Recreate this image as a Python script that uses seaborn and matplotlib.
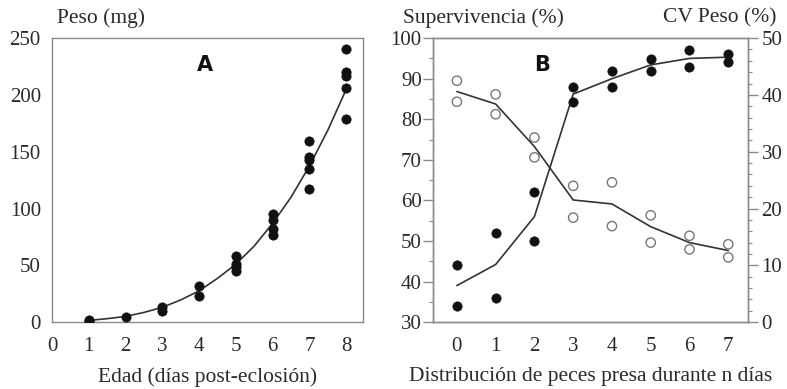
import numpy as np
import pandas as pd
import matplotlib
matplotlib.use("Agg")
import matplotlib.pyplot as plt
from matplotlib.ticker import MultipleLocator
import seaborn as sns

# %% datos panel A: peso vs edad
edad = [1, 1, 2, 3, 3, 4, 4, 5, 5, 5, 5, 6, 6, 6, 6, 7, 7, 7, 7, 7, 8, 8, 8, 8, 8]
peso = [1, 2, 4.4, 9.7, 13, 23, 31.8, 45, 48.5, 51.5, 58, 77, 82, 89.7, 95,
        117, 134.7, 143, 145.6, 159.6, 178.8, 206.5, 216.7, 220.6, 240.5]
curva_x = [1, 1.5, 2, 2.5, 3, 3.5, 4, 4.5, 5, 5.5, 6, 6.5, 7, 7.5, 8]
curva_y = [1.5, 3, 5, 8.5, 13, 19.5, 27.5, 38.5, 51, 67, 87, 110, 137.5, 169, 205]

# %% datos panel B: supervivencia y CV peso
dias = [0, 0, 1, 1, 2, 2, 3, 3, 4, 4, 5, 5, 6, 6, 7, 7]
superv = [44, 34, 52, 36, 62, 50, 88, 84.3, 92, 88, 94.8, 92, 97, 92.8, 96.1, 94]
cv = [42.5, 38.8, 40.1, 36.6, 32.5, 29, 24, 18.4, 24.6, 16.9, 18.8, 14, 15.2, 12.8, 13.7, 11.4]
dias_linea = [0, 1, 2, 3, 4, 5, 6, 7]
superv_linea = [39, 44.2, 56, 86.2, 90, 93.4, 95, 95.3]
cv_linea = [40.6, 38.4, 30.9, 21.5, 20.8, 16.8, 14, 12.6]

dfA = pd.DataFrame({"edad": edad, "peso": peso})
dfA_c = pd.DataFrame({"x": curva_x, "y": curva_y})
dfB = pd.DataFrame({"dias": dias, "superv": superv, "cv": cv})
dfB_l = pd.DataFrame({"dias": dias_linea, "superv": superv_linea, "cv": cv_linea})

sns.set_style("white")
plt.rcParams["font.family"] = ["Liberation Serif", "DejaVu Serif"]

gris = "#8a8a8a"
texto = "#2a2a2a"
fs_tick = 15
fs_lab = 15.5

fig = plt.figure(figsize=(7.87, 3.89), dpi=100)
axA = fig.add_axes([0.066, 0.172, 0.395, 0.730])
axB = fig.add_axes([0.550, 0.172, 0.400, 0.730])


def estilo(ax):
    for s in ax.spines.values():
        s.set_color(gris)
        s.set_linewidth(1.0)
    ax.tick_params(axis="both", which="major", direction="out", color=gris,
                   labelcolor=texto, labelsize=fs_tick, length=7, width=1, pad=1)
    ax.tick_params(axis="both", which="minor", direction="out", color=gris,
                   length=3, width=0.8)
    ax.tick_params(axis="x", which="major", length=5, pad=6)


# %% panel A
sns.lineplot(data=dfA_c, x="x", y="y", ax=axA, color="#333333", linewidth=1.2)
sns.scatterplot(data=dfA, x="edad", y="peso", ax=axA, color="#111111", s=45,
                edgecolor="#111111", linewidth=0.5, zorder=3)
axA.set_xlim(0, 8.45)
axA.set_ylim(0, 250)
axA.xaxis.set_major_locator(MultipleLocator(1))
axA.yaxis.set_major_locator(MultipleLocator(50))
axA.yaxis.set_minor_locator(MultipleLocator(10))
estilo(axA)
axA.set_xlabel("Edad (días post-eclosión)", fontsize=fs_lab, color=texto, labelpad=8)
axA.set_ylabel("")
axA.text(0.016, 1.07, "Peso (mg)", transform=axA.transAxes, fontsize=fs_lab,
         color=texto, va="center", ha="left")
axA.text(4.16, 226, "A", fontsize=15, fontweight="bold", family="DejaVu Sans",
         color="#111111", ha="center", va="center")

# %% panel B
sns.lineplot(data=dfB_l, x="dias", y="superv", ax=axB, color="#333333", linewidth=1.2)
sns.scatterplot(data=dfB, x="dias", y="superv", ax=axB, color="#111111", s=45,
                edgecolor="#111111", linewidth=0.5, zorder=3)
axB.set_xlim(-0.62, 7.5)
axB.set_ylim(30, 100)
axB.xaxis.set_major_locator(MultipleLocator(1))
axB.yaxis.set_major_locator(MultipleLocator(10))
axB.yaxis.set_minor_locator(MultipleLocator(5))
estilo(axB)
axB.set_xlabel("Distribución de peces presa durante n días", fontsize=fs_lab,
               color=texto, labelpad=8)
axB.set_ylabel("")

axC = axB.twinx()
sns.lineplot(data=dfB_l, x="dias", y="cv", ax=axC, color="#333333", linewidth=1.2)
sns.scatterplot(data=dfB, x="dias", y="cv", ax=axC, facecolor="none", s=45,
                edgecolor="#777777", linewidth=1.0, zorder=3)
axC.set_ylim(0, 50)
axC.yaxis.set_major_locator(MultipleLocator(10))
axC.yaxis.set_minor_locator(MultipleLocator(2))
estilo(axC)
axC.tick_params(axis="y", which="major", pad=3)
axC.set_ylabel("")
axC.set_xlim(-0.62, 7.5)

axB.text(-0.095, 1.07, "Supervivencia (%)", transform=axB.transAxes, fontsize=fs_lab,
         color=texto, va="center", ha="left")
axB.text(1.092, 1.07, "CV Peso (%)", transform=axB.transAxes, fontsize=fs_lab,
         color=texto, va="center", ha="right")
axB.text(2.19, 93.3, "B", fontsize=15, fontweight="bold", family="DejaVu Sans",
         color="#111111", ha="center", va="center")

fig.savefig("out.png", dpi=100)
